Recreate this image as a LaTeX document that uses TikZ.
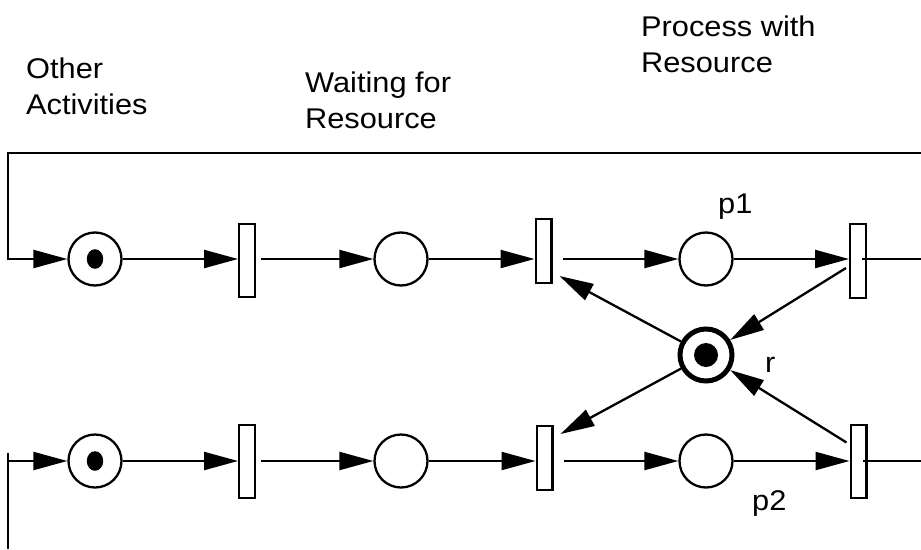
\documentclass[tikz,border=0pt]{standalone}
\usepackage{fontspec}
\setmainfont{Liberation Sans}[FakeStretch=1.08]
\usetikzlibrary{arrows.meta}
\begin{document}
\begin{tikzpicture}[x=1pt,y=-1pt,
  line width=2.3pt,
  arr/.style={-{Triangle[length=34pt,width=18pt]}},
  place/.style={circle,draw,minimum size=53pt,inner sep=0pt},
  trans/.style={rectangle,draw,fill=white,minimum width=15.7pt,inner sep=0pt},
  lbl/.style={font=\fontsize{28.5}{35.5}\selectfont,inner sep=0pt,align=left}]
\useasboundingbox (0,0) rectangle (921,549);

% top row
\node[place] (a1) at (95,259) {};
\node[trans,minimum height=72.7pt] (t1) at (247,260.5) {};
\node[place] (w1) at (401,259) {};
\node[trans,minimum height=63.7pt] (t2) at (543.5,251) {};
\node[place] (p1) at (706,259) {};
\node[trans,minimum height=73.7pt] (t3) at (858,261) {};

% bottom row
\node[place] (a2) at (95,461) {};
\node[trans,minimum height=72.7pt] (t1b) at (247,461.5) {};
\node[place] (w2) at (401,461) {};
\node[trans,minimum height=63.7pt] (t2b) at (544.5,458) {};
\node[place] (p2) at (706,461) {};
\node[trans,minimum height=72.7pt] (t3b) at (858.5,461.5) {};

% resource
\node[circle,draw,line width=5pt,minimum size=52pt,inner sep=0pt] (r) at (706,355) {};

% tokens
\fill (a1) ellipse [x radius=8.2pt, y radius=9.8pt];
\fill (a2) ellipse [x radius=8.2pt, y radius=9.8pt];
\fill (r) circle [radius=12pt];

% frame coordinates
\coordinate (R1) at (921,153);
\coordinate (T1) at (8,153);
\coordinate (L1) at (8,259);
\coordinate (E1) at (921,259);
\coordinate (L2) at (8,461);
\coordinate (B2a) at (8,453);
\coordinate (B2b) at (8,549);
\coordinate (E2) at (921,461);

% top row connectors
\draw[arr] (R1) -- (T1) -- (L1) -- (a1);
\draw[arr] (a1) -- (a1 -| t1.west);
\draw[arr] (t1.east |- w1) ++(5,0) -- (w1);
\draw[arr] (w1) -- (w1 -| t2.west);
\draw[arr] (t2.east |- p1) ++(10,0) -- (p1);
\draw[arr] (p1) -- (p1 -| t3.west);
\draw (t3.east |- p1) ++(-5,0) -- (E1);

% bottom row connectors
\draw (B2a) -- (B2b);
\draw[arr] (L2) -- (a2);
\draw[arr] (a2) -- (a2 -| t1b.west);
\draw[arr] (t1b.east |- w2) ++(5,0) -- (w2);
\draw[arr] (w2) -- (w2 -| t2b.west);
\draw[arr] (t2b.east |- p2) ++(10,0) -- (p2);
\draw[arr] (p2) -- (p2 -| t3b.west);
\draw (t3b.east |- p2) ++(-5,0) -- (E2);

% resource arcs
\draw[arr] (r) -- ([xshift=7pt,yshift=8pt]t2.south east);
\draw[arr] (r) -- ([xshift=7pt,yshift=-9pt]t2b.north east);
\draw[arr] ([xshift=-3pt,yshift=-7pt]t3.west) -- (r);
\draw[arr] ([xshift=-3pt,yshift=19pt]t3b.west) -- (r);

% labels (anchor = baseline of last line)
\node[lbl,anchor=base west] (lo) at (25,114) {Other\\Activities};
\node[lbl,anchor=base west] (lw) at (304,128) {Waiting for\\Resource};
\node[lbl,anchor=base west] (lp) at (640,72) {Process with\\Resource};
\node[lbl,anchor=base west] (l1) at (717,213) {p1};
\node[lbl,anchor=base west] (l2) at (751,510) {p2};
\node[lbl,anchor=base west] (lr) at (764,372) {r};
\end{tikzpicture}
\end{document}
